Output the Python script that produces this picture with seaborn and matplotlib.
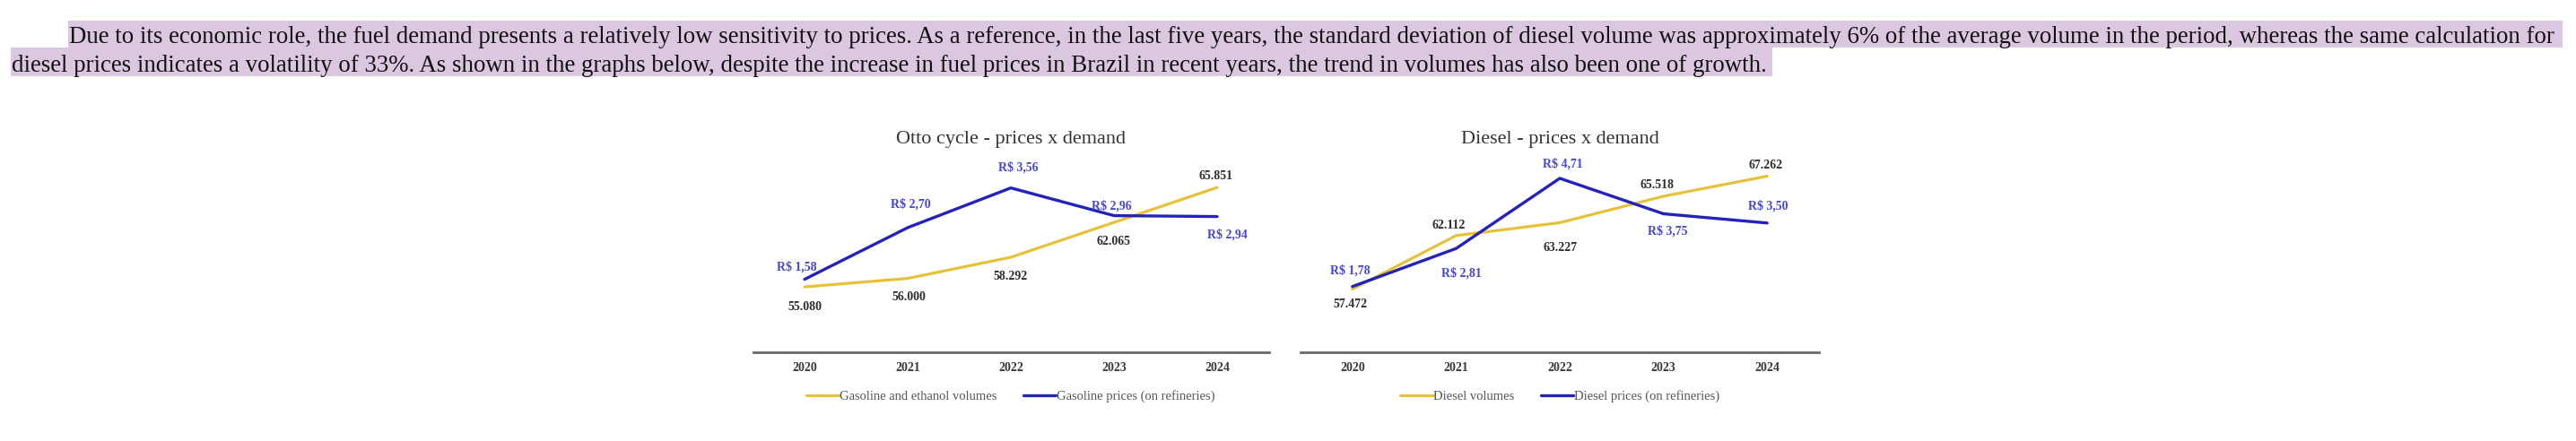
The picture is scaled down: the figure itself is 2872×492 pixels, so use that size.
import matplotlib
matplotlib.use("Agg")
import matplotlib.pyplot as plt
from matplotlib.patches import Rectangle
import seaborn as sns

# chart values
years = ["2020", "2021", "2022", "2023", "2024"]
otto_volumes = [55080, 56000, 58292, 62065, 65851]
otto_prices = [1.58, 2.70, 3.56, 2.96, 2.94]
diesel_volumes = [57472, 62112, 63227, 65518, 67262]
diesel_prices = [1.78, 2.81, 4.71, 3.75, 3.50]

otto_title = "Otto cycle - prices x demand"
diesel_title = "Diesel - prices x demand"
otto_legend = ["Gasoline and ethanol volumes", "Gasoline prices (on refineries)"]
diesel_legend = ["Diesel volumes", "Diesel prices (on refineries)"]

paragraph = [
    "Due to its economic role, the fuel demand presents a relatively low sensitivity to prices. "
    "As a reference, in the last five years, the standard deviation of diesel volume was "
    "approximately 6% of the average volume in the period, whereas the same calculation for",
    "diesel prices indicates a volatility of 33%. As shown in the graphs below, despite the "
    "increase in fuel prices in Brazil in recent years, the trend in volumes has also been one of growth.",
]

# styling
W, H = 2872, 492
YELLOW = "#e6c23a"
BLUE = "#2323bb"
BLUE_TXT = "#4848cc"
DARK_TXT = "#2e2e2e"
GREY = "#555555"
HIGHLIGHT = "#dcc7e1"

# label offsets in pixels (dx, dy) from each point
otto_vol_off = [(0, -22), (1, -21), (0, -22), (-1, -21), (-2, 13)]
otto_price_off = [(-9, 14), (3, 26), (8, 23), (-3, 11), (11, -20)]
diesel_vol_off = [(-2, -17), (-8, 11), (1, -28), (-7, 12), (-2, 12)]
diesel_price_off = [(-2, 18), (6, -28), (3, 16), (5, -19), (1, 19)]

sns.set_theme(style="white")
plt.rcParams["font.family"] = ["Liberation Serif", "DejaVu Serif"]

fig = plt.figure(figsize=(W / 100, H / 100), dpi=100)


def fmt_volume(v):
    return f"{v:,}".replace(",", ".")


def fmt_price(p):
    return "R$ " + f"{p:.2f}".replace(".", ",")


def draw_panel(rect, volumes, prices, vol_lim, price_lim, title, legend_labels,
               vol_off, price_off):
    ax = fig.add_axes(rect)
    ax2 = ax.twinx()

    sns.lineplot(x=years, y=volumes, ax=ax, color=YELLOW, linewidth=2.3,
                 label=legend_labels[0], legend=False)
    sns.lineplot(x=years, y=prices, ax=ax2, color=BLUE, linewidth=2.4,
                 label=legend_labels[1], legend=False)

    ax.set_xlim(-0.5, len(years) - 0.5)
    ax.set_ylim(*vol_lim)
    ax2.set_ylim(*price_lim)

    for a in (ax, ax2):
        a.set_xlabel("")
        a.set_ylabel("")
        a.set_yticks([])
        a.patch.set_visible(False)
        for side in ("top", "left", "right", "bottom"):
            a.spines[side].set_visible(False)
    ax.spines["bottom"].set_visible(True)
    ax.spines["bottom"].set_color("#6a6a6a")
    ax.spines["bottom"].set_linewidth(2)

    ax.tick_params(axis="x", length=0, pad=8, labelsize=10, labelcolor="#3a3a3a")
    for lbl in ax.get_xticklabels():
        lbl.set_fontweight("bold")

    for i, (v, p) in enumerate(zip(volumes, prices)):
        ax.annotate(fmt_volume(v), (i, v), xytext=vol_off[i], textcoords="offset pixels",
                    ha="center", va="center", fontsize=10, fontweight="bold",
                    color=DARK_TXT, annotation_clip=False)
        ax2.annotate(fmt_price(p), (i, p), xytext=price_off[i], textcoords="offset pixels",
                     ha="center", va="center", fontsize=10, fontweight="bold",
                     color=BLUE_TXT, annotation_clip=False)

    ax.text(0.5, 1.155, title, transform=ax.transAxes, ha="center", va="center",
            fontsize=16, color="#333333")

    handles = ax.get_lines()[:1] + ax2.get_lines()[:1]
    ax2.legend(handles, legend_labels, loc="center", bbox_to_anchor=(0.5, -0.238),
               ncol=2, frameon=False, fontsize=10.5, handlelength=2.5,
               handletextpad=0.05, columnspacing=2.0, labelcolor=GREY)
    return ax


bottom = 1 - 393 / H
height = (393 - 187) / H
draw_panel([839.5 / W, bottom, 575 / W, height], otto_volumes, otto_prices,
           (48000, 68000), (0, 4), otto_title, otto_legend, otto_vol_off, otto_price_off)
draw_panel([1450 / W, bottom, 578 / W, height], diesel_volumes, diesel_prices,
           (52000, 68000), (0, 5), diesel_title, diesel_legend, diesel_vol_off, diesel_price_off)

# paragraph with highlighted lines
renderer = fig.canvas.get_renderer()
t1 = fig.text(77 / W, 1 - 48 / H, paragraph[0], fontsize=17, va="baseline", ha="left",
              color="#111111", zorder=3)
w1 = t1.get_window_extent(renderer).width
fs = 17 * 2781 / w1
t1.set_fontsize(fs)
t2 = fig.text(13 / W, 1 - 80 / H, paragraph[1], fontsize=fs, va="baseline", ha="left",
              color="#111111", zorder=3)

e1 = t1.get_window_extent(renderer)
e2 = t2.get_window_extent(renderer)
fig.add_artist(Rectangle((76 / W, 1 - 53 / H), (e1.x1 + 9 - 76) / W, 30 / H,
                         transform=fig.transFigure, facecolor=HIGHLIGHT,
                         edgecolor="none", zorder=0))
fig.add_artist(Rectangle((12 / W, 1 - 85 / H), (e2.x1 + 6 - 12) / W, 32 / H,
                         transform=fig.transFigure, facecolor=HIGHLIGHT,
                         edgecolor="none", zorder=0))

fig.savefig("out.png", dpi=100)
